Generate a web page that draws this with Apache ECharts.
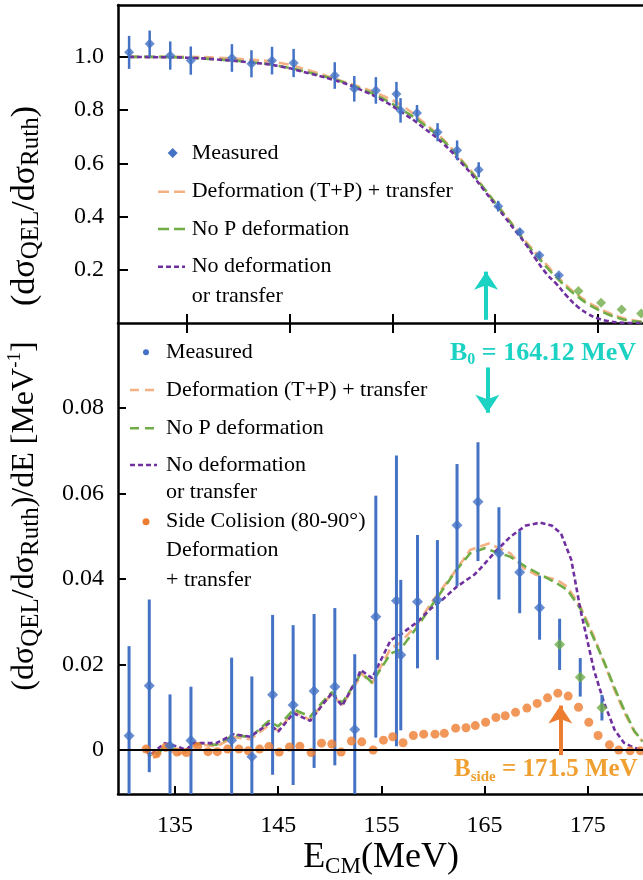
<!DOCTYPE html>
<html>
<head>
<meta charset="utf-8">
<script src="https://cdn.jsdelivr.net/npm/echarts@6/dist/echarts.min.js"></script>
<style>
  html, body { margin: 0; padding: 0; background: #fff; }
  #chart { width: 643px; height: 880px; }
</style>
</head>
<body>
<div id="chart"></div>
<script>
// ---- top panel: quasi-elastic / Rutherford ratio ----
const topE = [129.4, 131.4, 133.4, 135.4, 139.4, 141.3, 143.3, 145.4, 149.4, 151.3, 153.4, 155.4, 155.8, 157.4, 159.4, 161.3, 163.4, 165.3, 167.4, 169.3, 171.2];
const topVal = [1.017, 1.049, 1.005, 0.986, 0.996, 0.974, 0.986, 0.977, 0.930, 0.880, 0.874, 0.861, 0.799, 0.789, 0.717, 0.649, 0.576, 0.439, 0.342, 0.255, 0.179];
const topErr = [0.062, 0.05, 0.053, 0.053, 0.052, 0.051, 0.052, 0.053, 0.05, 0.048, 0.05, 0.045, 0.046, 0.03, 0.034, 0.037, 0.028, 0.02, 0.012, 0.01, 0.008];
const topGreenE = [173.1, 175.3, 177.3, 179.2];
const topGreenVal = [0.12, 0.076, 0.051, 0.036];

const topCurveE = [129.4, 132, 135, 138, 141, 144, 147, 150, 152, 154, 156, 158, 160, 162, 163, 164, 165, 166, 167, 168, 169, 170, 171, 172, 173, 174, 175, 176, 177, 178, 179.4];
const topDefTrans = [1.0, 1.0, 1.0, 0.997, 0.99, 0.978, 0.948, 0.91, 0.885, 0.855, 0.815, 0.755, 0.688, 0.60, 0.555, 0.50, 0.452, 0.405, 0.355, 0.305, 0.262, 0.219, 0.177, 0.139, 0.106, 0.079, 0.057, 0.039, 0.024, 0.013, 0.004];
const topNoP = [1.0, 1.0, 0.997, 0.99, 0.981, 0.966, 0.94, 0.908, 0.879, 0.845, 0.80, 0.748, 0.683, 0.597, 0.552, 0.502, 0.452, 0.402, 0.352, 0.30, 0.255, 0.21, 0.17, 0.132, 0.10, 0.072, 0.05, 0.032, 0.019, 0.009, 0.003];
const topNoDef = [1.0, 0.999, 0.997, 0.99, 0.98, 0.965, 0.937, 0.905, 0.875, 0.838, 0.79, 0.735, 0.672, 0.59, 0.545, 0.495, 0.445, 0.395, 0.345, 0.295, 0.238, 0.185, 0.145, 0.10, 0.062, 0.035, 0.017, 0.007, 0.002, 0.0, 0.0];

// ---- bottom panel: barrier distribution ----
const botE = [130.55, 132.51, 134.52, 136.55, 140.49, 142.45, 144.46, 146.45, 148.48, 150.49, 152.42, 154.46, 156.46, 156.88, 158.5, 160.43, 162.33, 164.36, 166.39, 168.4, 170.33];
const botVal = [0.0033, 0.015, 0.001, 0.0022, 0.0023, -0.0016, 0.0129, 0.0105, 0.0138, 0.0148, 0.0048, 0.0312, 0.0349, 0.0222, 0.0347, 0.0351, 0.0526, 0.0581, 0.046, 0.0416, 0.0333];
const botErr = [0.021, 0.0202, 0.012, 0.0126, 0.0193, 0.0188, 0.0187, 0.0187, 0.018, 0.0184, 0.0176, 0.0283, 0.034, 0.0176, 0.0156, 0.014, 0.0143, 0.0139, 0.0108, 0.0096, 0.0075];
const botGreenE = [172.27, 174.27, 176.37];
const botGreenVal = [0.0247, 0.017, 0.0099];
const botGreenErr = [0.006, 0.0045, 0.003];

const defTransE = [132.1, 132.7, 133.5, 134.0, 135.2, 136.1, 136.8, 137.8, 139.0, 140.7, 142.3, 144.1, 145.0, 146.5, 148.1, 149.4, 150.2, 151.2, 152.8, 153.0, 154.1, 155.9, 156.8, 158.5, 159.8, 162.3, 163.6, 165.4, 167.5, 168.8, 170.0, 172.0, 173.0, 174.3, 175.6, 176.6, 177.6, 178.5, 179.5, 180.3];
const defTransVal = [0.0004, -0.0022, -0.001, 0.0005, -0.001, -0.0005, 0.0012, 0.0012, 0.0008, 0.003, 0.0025, 0.0058, 0.0045, 0.009, 0.007, 0.011, 0.013, 0.0105, 0.0165, 0.018, 0.0156, 0.0238, 0.025, 0.0295, 0.0343, 0.0423, 0.0468, 0.0483, 0.046, 0.0425, 0.041, 0.0398, 0.0382, 0.0335, 0.0265, 0.0203, 0.014, 0.009, 0.0043, 0.002];
const noPE = [132.1, 132.7, 133.5, 134.0, 135.2, 136.1, 136.8, 137.8, 139.0, 140.7, 142.3, 144.1, 145.0, 146.5, 148.1, 149.4, 150.2, 151.2, 152.8, 153.0, 154.1, 155.9, 156.8, 158.5, 159.8, 162.3, 163.6, 165.0, 167.5, 169.1, 172.0, 173.0, 174.3, 175.6, 176.6, 177.6, 178.5, 179.5, 180.3];
const noPVal = [0.0004, -0.0015, -0.0005, 0.001, 0.0, 0.0, 0.0015, 0.0015, 0.0012, 0.0035, 0.003, 0.0068, 0.0055, 0.0095, 0.0078, 0.0115, 0.0135, 0.011, 0.017, 0.0182, 0.0158, 0.0226, 0.0234, 0.0289, 0.0335, 0.0422, 0.046, 0.0472, 0.0452, 0.0427, 0.039, 0.0375, 0.033, 0.026, 0.0205, 0.0145, 0.0095, 0.0045, 0.002];
const noDefE = [132.1, 132.7, 134.0, 135.2, 136.1, 136.8, 137.8, 139.0, 140.7, 142.3, 144.1, 145.0, 146.5, 148.1, 149.4, 150.2, 151.2, 152.8, 153.0, 154.1, 155.9, 156.8, 158.5, 159.8, 160.7, 162.3, 164.0, 164.6, 166.2, 167.5, 169.0, 170.4, 171.5, 172.4, 173.4, 174.3, 175.6, 176.6, 177.6, 178.5, 179.5, 180.3];
const noDefVal = [0.0, -0.001, 0.0016, 0.0008, 0.0, 0.0017, 0.0016, 0.0016, 0.0037, 0.0031, 0.0062, 0.0043, 0.0086, 0.0068, 0.0109, 0.0133, 0.0103, 0.0175, 0.0187, 0.0168, 0.0257, 0.0269, 0.030, 0.0331, 0.0347, 0.0382, 0.041, 0.0425, 0.0468, 0.0499, 0.0525, 0.0532, 0.0525, 0.0507, 0.0445, 0.0327, 0.0187, 0.0109, 0.0047, 0.0017, 0.0005, 0.0];

const sideE = [132.2, 133.2, 134.1, 135.2, 136.1, 137.2, 138.2, 139.1, 140.1, 141.2, 142.1, 143.2, 144.1, 145.1, 146.1, 147.1, 148.2, 149.2, 150.2, 151.1, 152.1, 153.1, 154.2, 155.2, 156.1, 157.1, 158.1, 159.1, 160.2, 161.1, 162.2, 163.2, 164.1, 165.1, 166.1, 167.0, 168.0, 169.1, 170.1, 171.1, 172.1, 173.1, 174.1, 175.1, 176.0, 177.1, 178.0, 179.1, 180.1];
const sideVal = [0.0002, -0.0009, 0.0006, -0.0005, -0.0006, 0.0008, -0.0004, -0.0004, 0.0002, 0.0002, -0.0002, 0.0002, 0.0008, -0.0005, 0.0007, 0.0009, -0.0006, 0.0016, 0.0014, -0.0005, 0.0021, 0.0019, 0.0, 0.0023, 0.0031, 0.0017, 0.0034, 0.0037, 0.0037, 0.0039, 0.0051, 0.0052, 0.0057, 0.0065, 0.0076, 0.008, 0.0088, 0.0098, 0.0109, 0.0122, 0.0133, 0.0126, 0.01, 0.0065, 0.0034, 0.0012, 0.0, -0.0002, -0.0002];

const xTicks = [135, 145, 155, 165, 175];
const topYTicks = [0.2, 0.4, 0.6, 0.8, 1.0];
const botYTicks = [0, 0.02, 0.04, 0.06, 0.08];

const B0 = 164.12;
const Bside = 171.5;

const BLUE = '#4472c4', ORANGE = '#ed7d31', LORANGE = '#f4b183', GREEN = '#70ad47', PURPLE = '#7030a0';
const CYAN = '#1cd3c3', GOLD = '#f0a030';
const FONT = 'Liberation Serif';

const zip = (a, b) => a.map((v, i) => [v, b[i]]);

function errBars(xi, yi, es, vs, errs, w) {
    return {
        type: 'custom', xAxisIndex: xi, yAxisIndex: yi, clip: true, silent: true, z: 3,
        data: es.map((e, i) => [e, vs[i] - errs[i], vs[i] + errs[i]]),
        encode: { x: 0, y: [1, 2] },
        renderItem: function (params, api) {
            const lo = api.coord([api.value(0), api.value(1)]);
            const hi = api.coord([api.value(0), api.value(2)]);
            return {
                type: 'line',
                shape: { x1: lo[0], y1: lo[1], x2: hi[0], y2: hi[1] },
                style: { stroke: BLUE, lineWidth: w }
            };
        }
    };
}

function curve(xi, yi, data, color, dash, smooth) {
    return {
        type: 'line', xAxisIndex: xi, yAxisIndex: yi, data: data, showSymbol: false,
        smooth: smooth, silent: true, z: 2,
        lineStyle: { color: color, width: 2.6, type: dash }
    };
}

const axisLine = { show: true, onZero: false, lineStyle: { color: '#000', width: 2.5 } };
const tickStyle = { color: '#000', width: 2 };
const labelStyle = { color: '#000', fontFamily: FONT, fontSize: 24 };

var dom = document.getElementById('chart');
var myChart = echarts.init(dom, null, { renderer: 'canvas' });

// legend pieces (plain graphics, positions in px)
function legLine(x, y, color, dash) {
    return { type: 'line', shape: { x1: x, y1: y, x2: x + 27, y2: y }, style: { stroke: color, lineWidth: 2.6, lineDash: dash } };
}
function legText(x, y, t) {
    return { type: 'text', x: x, y: y, style: { text: t, fill: '#000', font: '22px "' + FONT + '"', verticalAlign: 'middle' } };
}

var graphics = [
    // top legend
    { type: 'polygon', shape: { points: [[172.7, 148], [177.7, 153], [172.7, 158], [167.7, 153]] }, style: { fill: BLUE } },
    legText(191.7, 153, 'Measured'),
    legLine(158, 191.7, LORANGE, [11, 5]),
    legText(191.7, 191.7, 'Deformation (T+P) + transfer'),
    legLine(158, 229, GREEN, [11, 5]),
    legText(191.7, 229, 'No P deformation'),
    legLine(158, 266.7, PURPLE, [5, 3]),
    legText(191.7, 266.7, 'No deformation'),
    legText(191.7, 296, 'or transfer'),
    // bottom legend
    { type: 'circle', shape: { cx: 146, cy: 352.3, r: 3 }, style: { fill: BLUE } },
    legText(166, 352.3, 'Measured'),
    legLine(130, 390, LORANGE, [9, 6]),
    legText(166, 390, 'Deformation (T+P) + transfer'),
    legLine(130, 428.3, GREEN, [9, 6]),
    legText(166, 428.3, 'No P deformation'),
    legLine(130, 465, PURPLE, [5, 3]),
    legText(166, 465, 'No deformation'),
    legText(166, 492.7, 'or transfer'),
    { type: 'circle', shape: { cx: 146, cy: 521.7, r: 3.5 }, style: { fill: ORANGE } },
    legText(166, 521.7, 'Side Colision (80-90°)'),
    legText(166, 550, 'Deformation'),
    legText(166, 580.7, '+ transfer'),
    // annotations
    {
        type: 'text', x: 450, y: 353,
        style: {
            text: '{b|B}{s|0}{b| = ' + B0.toFixed(2) + ' MeV}', fill: CYAN,
            verticalAlign: 'middle',
            rich: {
                b: { fontFamily: FONT, fontSize: 26, fontWeight: 'bold', lineHeight: 30, fill: CYAN },
                s: { fontFamily: FONT, fontSize: 16, fontWeight: 'bold', lineHeight: 12, verticalAlign: 'bottom', fill: CYAN }
            }
        }
    },
    {
        type: 'text', x: 454, y: 770,
        style: {
            text: '{b|B}{s|side}{b| = ' + Bside.toFixed(1) + ' MeV}', fill: GOLD,
            verticalAlign: 'middle',
            rich: {
                b: { fontFamily: FONT, fontSize: 25, fontWeight: 'bold', lineHeight: 30, fill: GOLD },
                s: { fontFamily: FONT, fontSize: 15, fontWeight: 'bold', lineHeight: 12, verticalAlign: 'bottom', fill: GOLD }
            }
        }
    },
    // axis titles
    {
        type: 'text', x: 25, y: 206, rotation: Math.PI / 2,
        style: {
            text: '{m|(dσ}{s|QEL}{m|/dσ}{s|Ruth}{m|)}', align: 'center', verticalAlign: 'middle',
            rich: {
                m: { fontFamily: FONT, fontSize: 34, lineHeight: 38, fill: '#000' },
                s: { fontFamily: FONT, fontSize: 25, lineHeight: 16, verticalAlign: 'bottom', fill: '#000' }
            }
        }
    },
    {
        type: 'text', x: 25, y: 516, rotation: Math.PI / 2,
        style: {
            text: '{m|(dσ}{s|QEL}{m|/dσ}{s|Ruth}{m|)/dE [MeV}{p|-1}{m|]}', align: 'center', verticalAlign: 'middle',
            rich: {
                m: { fontFamily: FONT, fontSize: 32, lineHeight: 38, fill: '#000' },
                s: { fontFamily: FONT, fontSize: 25, lineHeight: 16, verticalAlign: 'bottom', fill: '#000' },
                p: { fontFamily: FONT, fontSize: 19, lineHeight: 14, verticalAlign: 'top', fill: '#000' }
            }
        }
    },
    {
        type: 'text', x: 381, y: 858,
        style: {
            text: '{m|E}{s|CM}{m|(MeV)}', align: 'center', verticalAlign: 'middle',
            rich: {
                m: { fontFamily: FONT, fontSize: 36, lineHeight: 40, fill: '#000' },
                s: { fontFamily: FONT, fontSize: 23, lineHeight: 15, verticalAlign: 'bottom', fill: '#000' }
            }
        }
    }
];

var option = {
    animation: false,
    backgroundColor: '#fff',
    grid: [
        { left: 118, top: 5, width: 525, height: 318, outerBoundsMode: 'none' },
        { left: 118, top: 323, width: 525, height: 471, outerBoundsMode: 'none' }
    ],
    xAxis: [
        {
            gridIndex: 0, type: 'value', min: 128.32, max: 179.38, position: 'bottom',
            axisLine: axisLine, splitLine: { show: false },
            axisTick: { show: true, inside: true, length: 9, customValues: xTicks, lineStyle: tickStyle },
            axisLabel: { show: false }
        },
        {
            gridIndex: 0, type: 'value', min: 128.32, max: 179.38, position: 'bottom',
            axisLine: { show: false, onZero: false }, splitLine: { show: false },
            axisTick: { show: true, inside: false, length: 10, customValues: xTicks, lineStyle: tickStyle },
            axisLabel: { show: false }
        },
        {
            gridIndex: 0, type: 'value', min: 128.32, max: 179.38, position: 'top',
            axisLine: axisLine, splitLine: { show: false },
            axisTick: { show: false }, axisLabel: { show: false }
        },
        {
            gridIndex: 1, type: 'value', min: 129.48, max: 180.35, position: 'bottom',
            axisLine: axisLine, splitLine: { show: false },
            axisTick: { show: true, inside: true, length: 8, customValues: xTicks, lineStyle: tickStyle },
            axisLabel: Object.assign({ customValues: xTicks, margin: 20 }, labelStyle)
        }
    ],
    yAxis: [
        {
            gridIndex: 0, type: 'value', min: 0, max: 1.195,
            axisLine: axisLine, splitLine: { show: false },
            axisTick: { show: true, inside: true, length: 10, customValues: topYTicks, lineStyle: tickStyle },
            axisLabel: Object.assign({ customValues: topYTicks, margin: 14, formatter: v => v.toFixed(1) }, labelStyle)
        },
        {
            gridIndex: 1, type: 'value', min: -0.0103, max: 0.0999,
            axisLine: axisLine, splitLine: { show: false },
            axisTick: { show: true, inside: true, length: 8, customValues: botYTicks, lineStyle: tickStyle },
            axisLabel: Object.assign({ customValues: botYTicks, margin: 14, formatter: v => (Math.abs(v) < 1e-9 ? '0' : v.toFixed(2)) }, labelStyle)
        }
    ],
    graphic: graphics,
    series: [
        // top
        curve(0, 0, zip(topCurveE, topDefTrans), LORANGE, [10, 5], true),
        curve(0, 0, zip(topCurveE, topNoP), GREEN, [10, 5], true),
        Object.assign(curve(0, 0, zip(topCurveE, topNoDef), PURPLE, [5, 3], true), {
            markLine: {
                silent: true, animation: false, label: { show: false },
                symbol: ['none', 'arrow'], symbolSize: 18,
                lineStyle: { color: CYAN, width: 4, type: 'solid' },
                data: [[{ coord: [B0, 0.012] }, { coord: [B0, 0.193] }]]
            }
        }),
        errBars(0, 0, topE, topVal, topErr, 2.5),
        {
            type: 'scatter', xAxisIndex: 0, yAxisIndex: 0, data: zip(topE, topVal),
            symbol: 'diamond', symbolSize: 10, itemStyle: { color: BLUE }, z: 4, silent: true
        },
        {
            type: 'scatter', xAxisIndex: 0, yAxisIndex: 0, data: zip(topGreenE, topGreenVal),
            symbol: 'diamond', symbolSize: 10, itemStyle: { color: GREEN }, z: 4, silent: true
        },
        // bottom
        Object.assign(curve(3, 1, zip(defTransE, defTransVal), LORANGE, [10, 5], false), {
            markLine: {
                silent: true, animation: false, label: { show: false }, symbol: 'none',
                lineStyle: { color: '#000', width: 2, type: 'solid' },
                data: [{ yAxis: 0 }]
            }
        }),
        curve(3, 1, zip(noPE, noPVal), GREEN, [10, 5], false),
        Object.assign(curve(3, 1, zip(noDefE, noDefVal), PURPLE, [5, 3], false), {
            markLine: {
                silent: true, animation: false, label: { show: false },
                symbol: ['none', 'arrow'], symbolSize: 18,
                data: [
                    [{ coord: [165.27, 0.0895], lineStyle: { color: CYAN, width: 4, type: 'solid' } },
                     { coord: [165.27, 0.0789] }],
                    [{ coord: [172.34, -0.0012], lineStyle: { color: ORANGE, width: 4, type: 'solid' } },
                     { coord: [172.34, 0.0104] }]
                ]
            }
        }),
        {
            type: 'scatter', xAxisIndex: 3, yAxisIndex: 1, data: zip(sideE, sideVal),
            symbol: 'circle', symbolSize: 9, itemStyle: { color: ORANGE }, z: 3, silent: true
        },
        errBars(3, 1, botE, botVal, botErr, 3),
        errBars(3, 1, botGreenE, botGreenVal, botGreenErr, 3),
        {
            type: 'scatter', xAxisIndex: 3, yAxisIndex: 1, data: zip(botE, botVal),
            symbol: 'diamond', symbolSize: 11, itemStyle: { color: BLUE }, z: 4, silent: true
        },
        {
            type: 'scatter', xAxisIndex: 3, yAxisIndex: 1, data: zip(botGreenE, botGreenVal),
            symbol: 'diamond', symbolSize: 11, itemStyle: { color: GREEN }, z: 4, silent: true
        }
    ]
};
option && myChart.setOption(option);
</script>
</body>
</html>
